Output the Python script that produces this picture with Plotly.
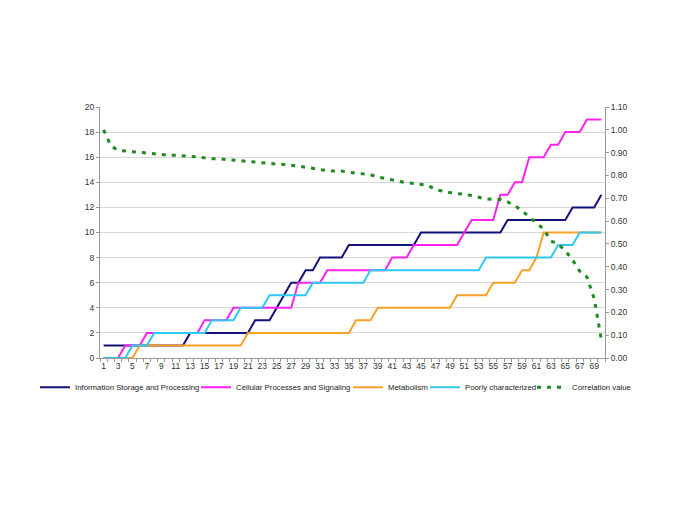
import plotly.graph_objects as go

categories = list(range(1, 71))

info_storage = ([1]*12 + [2]*9 + [3]*3 + [4, 5, 6, 6, 7, 7] + [8]*4 + [9]*10 +
                [10]*12 + [11]*9 + [12]*4 + [13])
cellular = ([0]*3 + [1]*3 + [2]*8 + [3]*4 + [4]*9 + [6]*4 + [7]*9 + [8]*3 +
            [9]*7 + [10] + [11]*4 + [13]*2 + [14]*2 + [16]*3 + [17]*2 + [18]*3 + [19]*3)
metabolism = ([0]*5 + [1]*15 + [2]*15 + [3]*3 + [4]*11 + [5]*5 + [6]*4 + [7]*2 +
              [8] + [10]*9)
poorly = ([0]*4 + [1]*3 + [2]*8 + [3]*4 + [4]*4 + [5]*6 + [6]*8 + [7]*16 +
          [8]*10 + [9]*3 + [10]*4)
correlation = [1.00, 0.93, 0.91, 0.907, 0.903, 0.898, 0.895, 0.893, 0.890, 0.889,
               0.889, 0.887, 0.885, 0.881, 0.877, 0.873, 0.873, 0.870, 0.866, 0.864,
               0.861, 0.856, 0.853, 0.851, 0.850, 0.848, 0.846, 0.841, 0.836, 0.830,
               0.826, 0.821, 0.819, 0.819, 0.814, 0.811, 0.809, 0.803, 0.793, 0.786,
               0.782, 0.773, 0.768, 0.765, 0.761, 0.756, 0.738, 0.730, 0.725, 0.720,
               0.718, 0.712, 0.703, 0.697, 0.695, 0.695, 0.684, 0.668, 0.645, 0.618,
               0.595, 0.565, 0.513, 0.500, 0.470, 0.430, 0.380, 0.355, 0.260, 0.080]

x_tick_labels = [str(v) for v in range(1, 71, 2)]

font = "Liberation Sans, Arial, sans-serif"
PLOT_L, PLOT_W = 92, 505

fig = go.Figure()
series = [
    ("Information Storage and Processing", info_storage, "#12127a", "legend", 75),
    ("Cellular Processes and Signaling", cellular, "#ff22ee", "legend2", 236),
    ("Metabolism", metabolism, "#f7a126", "legend3", 388),
    ("Poorly characterized", poorly, "#2ec8f0", "legend4", 465),
]
legend_text_x = {}
for name, vals, col, lg, tx in series:
    fig.add_trace(go.Scatter(x=categories, y=vals, name=name, mode="lines",
                             legend=lg, line=dict(color=col, width=2)))
    legend_text_x[lg] = tx
fig.add_trace(go.Scatter(x=categories, y=correlation, name="Correlation value",
                         mode="lines", yaxis="y2", legend="legend5",
                         line=dict(color="#1f8a1f", width=3, dash="4px,6px")))
legend_text_x["legend5"] = 572

legends = {}
for lg, tx in legend_text_x.items():
    legends[lg] = dict(orientation="h", x=(tx - 48 - PLOT_L) / PLOT_W, xanchor="left",
                       y=-0.117, yanchor="middle", bgcolor="rgba(0,0,0,0)",
                       font=dict(size=7.8, color="#222222", family=font),
                       itemwidth=30)

fig.update_layout(
    width=685, height=529,
    margin=dict(l=92, r=88, t=99, b=179),
    paper_bgcolor="white", plot_bgcolor="white",
    font=dict(family=font, size=8.5, color="#333333"),
    showlegend=True,
    xaxis=dict(range=[0.5, 70.5], tickmode="array",
               tickvals=list(range(1, 71, 2)), ticktext=x_tick_labels,
               ticks="", showgrid=False, zeroline=False,
               showline=True, linecolor="#999999", linewidth=1,
               minor=dict(tickmode="linear", tick0=0.5, dtick=1, ticks="outside",
                          ticklen=3, tickcolor="#999999", showgrid=False),
               tickfont=dict(size=8.5)),
    yaxis=dict(range=[0, 20], dtick=2, showgrid=True, gridcolor="#d8d8d8",
               gridwidth=1, zeroline=False, showline=True, linecolor="#999999",
               ticks="outside", ticklen=3, tickcolor="#999999",
               tickfont=dict(size=8.5)),
    yaxis2=dict(range=[0, 1.1], dtick=0.1, tickformat=".2f", overlaying="y",
                side="right", showgrid=False, zeroline=False, showline=True,
                linecolor="#999999", ticks="outside", ticklen=3,
                tickcolor="#999999", tickfont=dict(size=8.5)),
    **legends,
)

fig.write_html("out.html")
